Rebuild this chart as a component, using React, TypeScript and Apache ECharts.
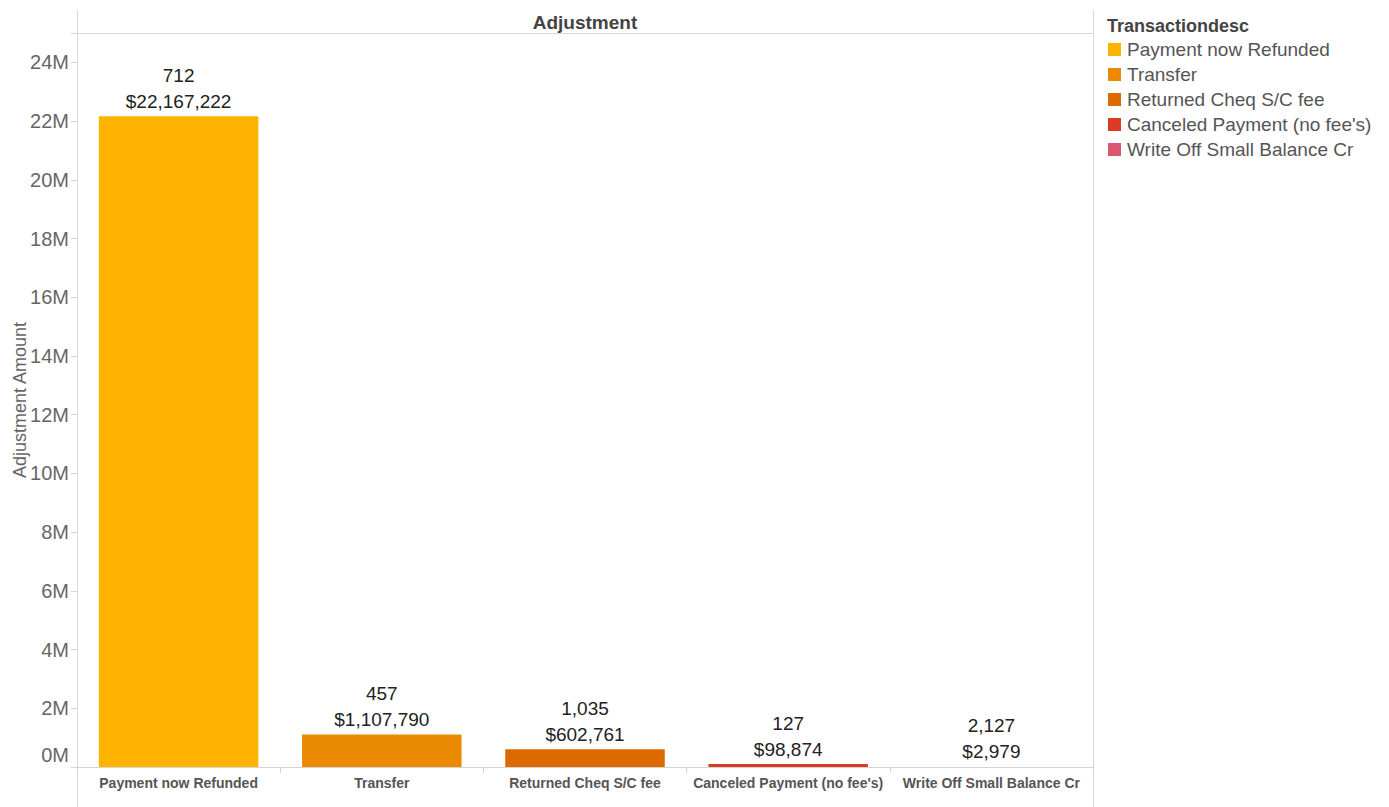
import React, { useEffect, useRef } from "react";
import * as echarts from "echarts";

const categories = [
  "Payment now Refunded",
  "Transfer",
  "Returned Cheq S/C fee",
  "Canceled Payment (no fee's)",
  "Write Off Small Balance Cr",
];
const amounts = [22167222, 1107790, 602761, 98874, 2979];
const counts = [712, 457, 1035, 127, 2127];
const colors = ["#FDB300", "#E98A00", "#DC6A00", "#DA3B22", "#D9586F"];
const yTicksMax = 25000000;
const yInterval = 2000000;

const FONT = "'Liberation Sans', Arial, sans-serif";

const fmtInt = (n: number) => n.toLocaleString("en-US");

export default function App() {
  const ref = useRef<HTMLDivElement>(null);

  useEffect(() => {
    if (!ref.current) return;
    const chart = echarts.init(ref.current, undefined, { renderer: "svg" });

    const series = categories.map((name, i) => ({
      name,
      type: "bar",
      stack: "all",
      barWidth: "78.5%",
      itemStyle: { color: colors[i] },
      label: {
        show: true,
        position: "top",
        distance: 2,
        fontFamily: FONT,
        fontSize: 19,
        lineHeight: 26,
        color: "#222",
        align: "center",
        formatter: () => `${fmtInt(counts[i])}\n$${fmtInt(amounts[i])}`,
      },
      data: categories.map((_, j) => (j === i ? amounts[i] : "-")),
    }));

    chart.setOption({
      animation: false,
      backgroundColor: "#ffffff",
      textStyle: { fontFamily: FONT },
      grid: {
        left: 77,
        right: 296,
        top: 33,
        bottom: 40,
        containLabel: false,
        outerBoundsMode: "none",
      },
      legend: {
        orient: "vertical",
        left: 1103,
        top: 35,
        itemWidth: 13,
        itemHeight: 13,
        itemGap: 6,
        icon: "rect",
        data: categories,
        textStyle: { fontFamily: FONT, fontSize: 19, color: "#555", padding: [0, 0, 0, 1] },
      },
      xAxis: {
        type: "category",
        data: categories,
        axisLine: { show: true, lineStyle: { color: "#d4d4d4", width: 1 } },
        axisTick: { show: true, alignWithLabel: false, length: 6, lineStyle: { color: "#d4d4d4" } },
        axisLabel: {
          fontFamily: FONT,
          fontSize: 14,
          fontWeight: "bold",
          color: "#555",
          margin: 9,
          interval: 0,
        },
      },
      yAxis: {
        type: "value",
        min: 0,
        max: yTicksMax,
        interval: yInterval,
        name: "Adjustment Amount",
        nameLocation: "middle",
        nameGap: 48,
        nameMoveOverlap: false,
        nameTextStyle: { fontFamily: FONT, fontSize: 18, color: "#666" },
        axisLine: { show: false },
        axisTick: { show: true, length: 6, lineStyle: { color: "#d4d4d4" } },
        splitLine: { show: false },
        axisLabel: {
          fontFamily: FONT,
          fontSize: 20,
          color: "#666",
          margin: 8,
          formatter: (v: number) => {
            if (v % yInterval !== 0) return "";
            if (v === 0) return "{z|0M}";
            return `${v / 1000000}M`;
          },
          rich: {
            z: { fontFamily: FONT, fontSize: 20, color: "#666", padding: [0, 0, 24, 0] },
          },
        },
      },
      graphic: [
        {
          type: "line",
          shape: { x1: 77.5, y1: 10, x2: 77.5, y2: 807 },
          style: { stroke: "#d9d9d9", lineWidth: 1 },
          silent: true,
        },
        {
          type: "line",
          shape: { x1: 1093.5, y1: 10, x2: 1093.5, y2: 807 },
          style: { stroke: "#d9d9d9", lineWidth: 1 },
          silent: true,
        },
        {
          type: "line",
          shape: { x1: 77, y1: 33.5, x2: 1093, y2: 33.5 },
          style: { stroke: "#d9d9d9", lineWidth: 1 },
          silent: true,
        },
        {
          type: "text",
          x: 585,
          y: 22,
          style: {
            text: "Adjustment",
            fontFamily: FONT,
            fontSize: 19,
            fontWeight: "bold",
            fill: "#444",
            align: "center",
            verticalAlign: "middle",
          },
        },
        {
          type: "text",
          x: 1107,
          y: 26,
          style: {
            text: "Transactiondesc",
            fontFamily: FONT,
            fontSize: 18,
            fontWeight: "bold",
            fill: "#444",
            align: "left",
            verticalAlign: "middle",
          },
        },
      ],
      series,
    });

    return () => chart.dispose();
  }, []);

  return <div ref={ref} style={{ width: 1389, height: 807, position: "absolute", left: 0, top: 0 }} />;
}
